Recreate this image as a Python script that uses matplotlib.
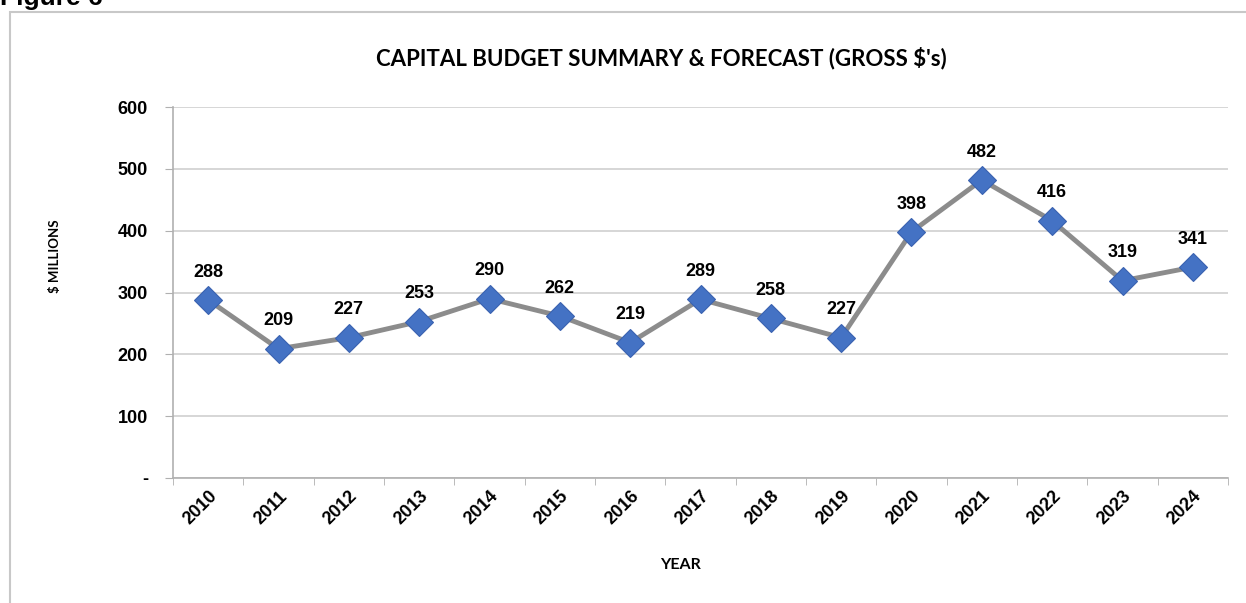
import matplotlib.pyplot as plt
from matplotlib.patches import Rectangle
from matplotlib import ticker

years = ["2010", "2011", "2012", "2013", "2014", "2015", "2016", "2017",
         "2018", "2019", "2020", "2021", "2022", "2023", "2024"]
budget = [288, 209, 227, 253, 290, 262, 219, 289, 258, 227, 398, 482, 416, 319, 341]
y_ticks = [0, 100, 200, 300, 400, 500, 600]
y_labels = ["-", "100", "200", "300", "400", "500", "600"]

plt.rcParams["font.family"] = ["Liberation Sans", "DejaVu Sans"]

W, H = 1246, 603
fig = plt.figure(figsize=(W / 100, H / 100), dpi=100)
ax = fig.add_axes([173 / W, 1 - 478 / H, (1228 - 173) / W, (478 - 107) / H])

# outer frame of the figure panel
fig.patches.append(Rectangle((10 / W, -0.05), 1.2, 1 - 12 / H + 0.05,
                             transform=fig.transFigure, fill=False,
                             edgecolor="#c8c8c8", linewidth=1.5))
fig.text(0.0, 1 - 5 / H, "Figure 6", fontsize=19, fontweight="bold",
         va="baseline", ha="left")

x = list(range(len(years)))
ax.plot(x, budget, color="#8c8c8c", linewidth=3.5, zorder=3,
        marker="D", markersize=14, markerfacecolor="#4472C4",
        markeredgecolor="#3a62b0", markeredgewidth=0.8)

for xi, v in zip(x, budget):
    ax.annotate(str(v), (xi, v), xytext=(0, 20), textcoords="offset points",
                ha="center", va="center", fontsize=13, fontweight="bold")

ax.set_xlim(-0.5, len(years) - 0.5)
ax.set_ylim(0, 600)
ax.set_yticks(y_ticks)
ax.set_yticklabels(y_labels, fontsize=13, fontweight="bold")
ax.set_xticks(x)
ax.set_xticklabels(years, rotation=45, ha="right", rotation_mode="anchor",
                   fontsize=13, fontweight="bold")
ax.xaxis.set_minor_locator(ticker.FixedLocator([i - 0.5 for i in range(len(years) + 1)]))
ax.tick_params(axis="x", which="major", length=0, pad=7)
ax.tick_params(axis="x", which="minor", length=5, color="#b0b0b0")
ax.tick_params(axis="y", length=6, color="#b0b0b0", pad=12)

ax.grid(axis="y", color="#d0d0d0", linewidth=1.2, zorder=0)
for s in ["top", "right"]:
    ax.spines[s].set_visible(False)
for s in ["left", "bottom"]:
    ax.spines[s].set_color("#b0b0b0")
    ax.spines[s].set_linewidth(1.2)

fig.text(661 / W, 1 - 58 / H, "CAPITAL BUDGET SUMMARY & FORECAST (GROSS $'s)",
         family="Lato", fontweight="bold", fontsize=16, ha="center", va="center")
fig.text(55 / W, 1 - 256 / H, "$ MILLIONS", family="Lato", fontweight="bold",
         fontsize=9.5, rotation=90, ha="center", va="center")
fig.text(680 / W, 1 - 565 / H, "YEAR", family="Lato", fontweight="bold",
         fontsize=11.5, ha="center", va="center")

fig.savefig("out.png", dpi=100)
